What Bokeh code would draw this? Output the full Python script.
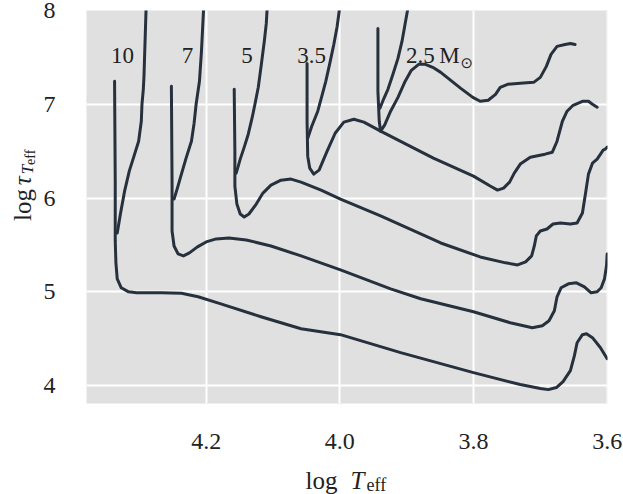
import math
from bokeh.plotting import figure
from bokeh.models import Range1d, FixedTicker, PrintfTickFormatter, Label
from bokeh.layouts import row, column
from bokeh.core.properties import value
from bokeh.embed import file_html
from bokeh.resources import INLINE

# ---------------- data (log Teff, log tau) ----------------
masses = ["10", "7", "5", "3.5", "2.5"]

# main tracks (descending column + extension to red)
x_10 = [4.337, 4.336, 4.336, 4.335, 4.333, 4.327, 4.316, 4.304, 4.267, 4.237, 4.212, 4.178, 4.118, 4.058, 3.999,
        3.909, 3.800, 3.730, 3.700, 3.688, 3.676, 3.666, 3.655, 3.649, 3.645, 3.637, 3.631, 3.622, 3.610, 3.600]
y_10 = [7.245, 6.181, 5.543, 5.309, 5.138, 5.043, 5.000, 4.989, 4.989, 4.984, 4.947, 4.872, 4.734, 4.606, 4.543,
        4.351, 4.138, 4.011, 3.968, 3.957, 3.979, 4.043, 4.160, 4.319, 4.457, 4.543, 4.553, 4.511, 4.404, 4.287]

x_7 = [4.252, 4.251, 4.251, 4.248, 4.242, 4.234, 4.225, 4.213, 4.200, 4.185, 4.166, 4.140, 4.103, 4.058, 3.999,
       3.924, 3.879, 3.800, 3.745, 3.712, 3.697, 3.687, 3.679, 3.675, 3.669, 3.658, 3.646, 3.634, 3.624, 3.615,
       3.609, 3.604, 3.601, 3.600]
y_7 = [7.191, 6.181, 5.649, 5.489, 5.404, 5.383, 5.415, 5.479, 5.532, 5.564, 5.574, 5.553, 5.489, 5.383, 5.234,
       5.032, 4.926, 4.787, 4.670, 4.617, 4.638, 4.691, 4.798, 4.947, 5.043, 5.085, 5.096, 5.053, 4.989, 5.000,
       5.043, 5.138, 5.277, 5.404]

x_5 = [4.158, 4.157, 4.157, 4.154, 4.149, 4.143, 4.136, 4.125, 4.115, 4.103, 4.088, 4.073, 4.058, 4.028, 3.999,
       3.939, 3.849, 3.790, 3.752, 3.734, 3.722, 3.713, 3.709, 3.706, 3.700, 3.690, 3.681, 3.670, 3.655, 3.645,
       3.637, 3.633, 3.628, 3.622, 3.615, 3.610, 3.606, 3.603, 3.600]
y_5 = [7.160, 6.500, 6.128, 5.936, 5.830, 5.798, 5.830, 5.936, 6.053, 6.138, 6.191, 6.202, 6.170, 6.085, 5.989,
       5.809, 5.521, 5.372, 5.309, 5.287, 5.319, 5.383, 5.489, 5.596, 5.649, 5.670, 5.723, 5.734, 5.723, 5.734,
       5.840, 6.021, 6.255, 6.372, 6.415, 6.468, 6.511, 6.521, 6.543]

x_35 = [4.049, 4.049, 4.048, 4.045, 4.039, 4.031, 4.019, 4.007, 3.994, 3.979, 3.964, 3.939, 3.860, 3.800, 3.775,
        3.764, 3.755, 3.746, 3.739, 3.730, 3.715, 3.693, 3.682, 3.675, 3.667, 3.660, 3.651, 3.637, 3.628, 3.622,
        3.615]
y_35 = [7.436, 6.819, 6.447, 6.319, 6.255, 6.298, 6.500, 6.691, 6.809, 6.840, 6.809, 6.713, 6.426, 6.234, 6.128,
        6.085, 6.106, 6.170, 6.266, 6.362, 6.436, 6.468, 6.489, 6.606, 6.819, 6.926, 6.989, 7.032, 7.032, 7.000,
        6.968]

x_25 = [3.943, 3.943, 3.941, 3.939, 3.933, 3.924, 3.913, 3.903, 3.893, 3.882, 3.872, 3.861, 3.849, 3.834, 3.819,
        3.801, 3.790, 3.778, 3.767, 3.760, 3.749, 3.730, 3.710, 3.700, 3.691, 3.684, 3.675, 3.663, 3.655, 3.648]
y_25 = [7.809, 7.138, 6.819, 6.713, 6.777, 6.926, 7.074, 7.234, 7.362, 7.426, 7.426, 7.394, 7.340, 7.255, 7.170,
        7.074, 7.032, 7.043, 7.106, 7.181, 7.213, 7.223, 7.234, 7.287, 7.404, 7.532, 7.617, 7.638, 7.649, 7.638]

# steep upward branches
xb_10 = [4.333, 4.328, 4.322, 4.315, 4.307, 4.301, 4.297, 4.296, 4.294, 4.293, 4.290, 4.289]
yb_10 = [5.628, 5.840, 6.074, 6.287, 6.468, 6.606, 6.819, 7.000, 7.160, 7.298, 7.989, 8.100]

xb_7 = [4.248, 4.243, 4.237, 4.230, 4.222, 4.218, 4.215, 4.210, 4.207, 4.204, 4.203]
yb_7 = [5.989, 6.106, 6.255, 6.426, 6.606, 6.798, 7.000, 7.245, 7.564, 7.989, 8.100]

xb_5 = [4.155, 4.149, 4.143, 4.137, 4.131, 4.127, 4.122, 4.118, 4.113, 4.110, 4.109, 4.107]
yb_5 = [6.266, 6.415, 6.543, 6.681, 6.862, 7.000, 7.181, 7.394, 7.670, 7.862, 7.989, 8.100]

xb_35 = [4.048, 4.042, 4.033, 4.027, 4.021, 4.015, 4.009, 4.004, 4.001, 3.999]
yb_35 = [6.638, 6.766, 6.926, 7.085, 7.245, 7.436, 7.638, 7.830, 7.989, 8.100]

xb_25 = [3.940, 3.934, 3.928, 3.921, 3.913, 3.907, 3.903, 3.899, 3.897]
yb_25 = [6.957, 7.064, 7.160, 7.309, 7.489, 7.670, 7.830, 7.989, 8.100]

x_ticks = [4.2, 4.0, 3.8, 3.6]
y_ticks = [4, 5, 6, 7, 8]

# ---------------- styling ----------------
SERIF = "Liberation Serif"
LINE = "#27313d"
TXT = "#222222"

# ---------------- main figure ----------------
p = figure(width=582, height=463, output_backend="svg", toolbar_location=None,
           x_range=Range1d(4.379, 3.5995), y_range=Range1d(3.809, 8.0),
           min_border_left=45, min_border_right=15, min_border_top=10, min_border_bottom=60)
p.background_fill_color = "#e0e0e0"
p.border_fill_color = "white"
p.outline_line_color = None

for ax in (p.xaxis[0], p.yaxis[0]):
    ax.axis_line_color = None
    ax.major_tick_line_color = None
    ax.minor_tick_line_color = None
    ax.major_tick_out = 0
    ax.major_tick_in = 0
    ax.major_label_text_font = SERIF
    ax.major_label_text_font_size = "24px"
    ax.major_label_text_color = TXT

p.xaxis.ticker = FixedTicker(ticks=x_ticks)
p.yaxis.ticker = FixedTicker(ticks=y_ticks)
p.xaxis.formatter = PrintfTickFormatter(format="%.1f")
p.yaxis.formatter = PrintfTickFormatter(format="%d")
p.xaxis.major_label_standoff = 30
p.yaxis.major_label_standoff = 31

p.xgrid.ticker = FixedTicker(ticks=x_ticks)
p.ygrid.ticker = FixedTicker(ticks=y_ticks)
p.grid.grid_line_color = "white"
p.grid.grid_line_width = 2

tracks = [(x_10, y_10), (x_7, y_7), (x_5, y_5), (x_35, y_35), (x_25, y_25),
          (xb_10, yb_10), (xb_7, yb_7), (xb_5, yb_5), (xb_35, yb_35), (xb_25, yb_25)]
for xs, ys in tracks:
    p.line(xs, ys, line_color=LINE, line_width=3, line_join="round", line_cap="round")

# mass labels
label_x = [4.325, 4.228, 4.139, 4.042]
for m, lx in zip(masses[:4], label_x):
    p.add_layout(Label(x=lx, y=7.52, text=m, text_font=SERIF, text_font_size="23px",
                       text_align="center", text_baseline="alphabetic", text_color=TXT))
p.add_layout(Label(x=3.901, y=7.52, text=masses[4] + "\u2009M", text_font=SERIF, text_font_size="23px",
                   text_align="left", text_baseline="alphabetic", text_color=TXT))
p.add_layout(Label(x=3.810, y=7.445, text="\u2299", text_font="DejaVu Sans", text_font_size="15px",
                   text_align="center", text_baseline="alphabetic", text_color=TXT))


def blank_fig(w, h):
    f = figure(width=w, height=h, output_backend="svg", toolbar_location=None,
               x_range=Range1d(0, w), y_range=Range1d(0, h), x_axis_type=None, y_axis_type=None,
               min_border=0)
    f.outline_line_color = None
    f.background_fill_color = "white"
    f.border_fill_color = "white"
    f.grid.visible = False
    return f


def put(f, txt, x, y, size, style="normal", angle=0.0):
    f.text(x=[x], y=[y], text=[txt], angle=angle, text_font=value(SERIF), text_font_size=value(size),
           text_font_style=style, text_align="left", text_baseline="alphabetic", text_color=TXT)


# y axis title: log tau_{T_eff}
yfig = blank_fig(40, 463)
a = math.pi / 2
put(yfig, "log", 22, 215, "25px", angle=a)
put(yfig, "\u03c4", 22, 257, "25px", "italic", angle=a)
put(yfig, "T", 27, 270, "17px", "italic", angle=a)
put(yfig, "eff", 30, 281, "14px", angle=a)

# x axis title: log T_eff
xfig = blank_fig(622, 31)
put(xfig, "log", 305, 14, "25px")
put(xfig, "T", 350, 14, "25px", "italic")
put(xfig, "eff", 366, 10, "18px")

layout = column(row(yfig, p), xfig)
open("out.html", "w").write(file_html(layout, INLINE))
